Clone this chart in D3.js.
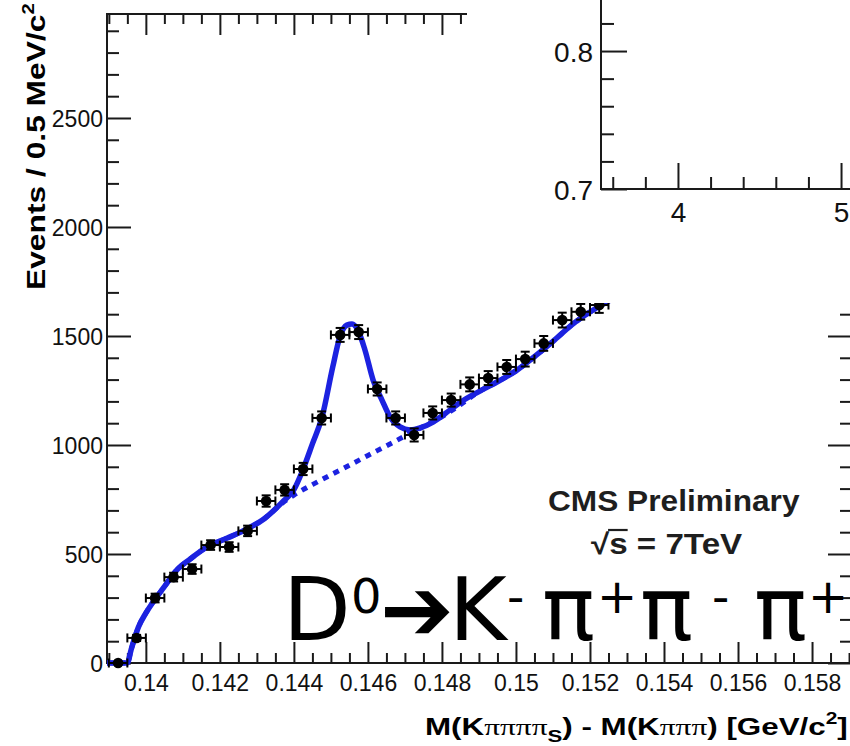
<!DOCTYPE html>
<html>
<head>
<meta charset="utf-8">
<script src="https://cdn.jsdelivr.net/npm/d3@7"></script>
<style>
  body { margin: 0; background: #fff; }
  svg { display: block; }
</style>
</head>
<body>
<svg id="chart" width="850" height="746"></svg>
<script>
// ---- data: D*+ -> D0 pi_s mass difference, D0 -> K- pi+ pi- pi+ ----
const binCenters = [0.13925, 0.13975, 0.14025, 0.14075, 0.14125, 0.14175, 0.14225, 0.14275, 0.14325,
  0.14375, 0.14425, 0.14475, 0.14525, 0.14575, 0.14625, 0.14675, 0.14725, 0.14775, 0.14825,
  0.14875, 0.14925, 0.14975, 0.15025, 0.15075, 0.15125, 0.15175, 0.15225];
const counts = [0, 115, 298, 394, 431, 541, 532, 606, 743, 794, 890, 1124, 1505, 1518, 1257,
  1124, 1046, 1147, 1206, 1278, 1307, 1358, 1394, 1466, 1573, 1611, 1642];
const countErrors = [0, 14, 20, 20, 22, 22, 22, 24, 26, 26, 28, 30, 32, 32, 30,
  30, 30, 30, 30, 32, 32, 32, 34, 34, 34, 36, 36];
const binHalfWidth = 0.00025;

// fitted model: total (signal + background) and background only
const fitX = [0.13895, 0.1395, 0.1396, 0.1398, 0.1400, 0.1402, 0.1405, 0.1408, 0.1412, 0.1417,
  0.1422, 0.1427, 0.1432, 0.1437, 0.1440, 0.14424, 0.1445, 0.14476, 0.14505, 0.14524, 0.14543,
  0.14557, 0.14573, 0.14592, 0.14614, 0.14638, 0.1466, 0.14687, 0.14714, 0.14741, 0.14776,
  0.14822, 0.1485, 0.1490, 0.1495, 0.1500, 0.1505, 0.1510, 0.1515, 0.1520, 0.1525, 0.1530];
const fitTotal = [0, 0, 60, 165, 229, 281, 350, 420, 477, 537, 573, 612, 662, 740, 795, 885, 1005,
  1128, 1358, 1495, 1550, 1555, 1527, 1436, 1298, 1206, 1128, 1083, 1069, 1078, 1105, 1161,
  1196, 1245, 1290, 1340, 1405, 1475, 1550, 1610, 1660, 1702];
const bkgX = [0.13895, 0.1395, 0.1396, 0.1398, 0.1400, 0.1402, 0.1405, 0.1408, 0.1412, 0.1417,
  0.1422, 0.1427, 0.1432, 0.1437, 0.1440, 0.1445, 0.1450, 0.1455, 0.1460, 0.1465, 0.1470,
  0.1475, 0.1480, 0.1485, 0.1490, 0.1495, 0.1500, 0.1505, 0.1510, 0.1515, 0.1520, 0.1525, 0.1530];
const bkgY = [0, 0, 60, 165, 229, 281, 350, 420, 477, 537, 573, 612, 662, 735, 770, 818, 863, 907,
  952, 996, 1041, 1085, 1130, 1185, 1245, 1290, 1340, 1405, 1475, 1550, 1610, 1660, 1702];

// axis ticks
const xMajorTicks = [0.14, 0.142, 0.144, 0.146, 0.148, 0.15, 0.152, 0.154, 0.156, 0.158];
const xTickLabels = ["0.14", "0.142", "0.144", "0.146", "0.148", "0.15", "0.152", "0.154", "0.156", "0.158"];
const yMajorTicks = [0, 500, 1000, 1500, 2000, 2500];
const yTickLabels = ["0", "500", "1000", "1500", "2000", "2500"];

// inset pad axes
const insetXTicks = [4, 5];
const insetXMinor = [3.6, 3.8, 4.2, 4.4, 4.6, 4.8];
const insetYTicks = [0.7, 0.8];
const insetYMinor = [0.72, 0.74, 0.76, 0.78, 0.82];

// ---- layout ----
const svg = d3.select("#chart");
const frame = { left: 107, right: 852, top: 14, bottom: 663 };
const SANS = "'Liberation Sans', Arial, Helvetica, sans-serif";
const AXIS = "#1a1a1a";
const BLUE = "#1c22e0";

const x = d3.scaleLinear().domain([0.13895, 0.15908]).range([frame.left, frame.right]);
const y = d3.scaleLinear().domain([0, 2977]).range([frame.bottom, frame.top]);

function styleAxis(g) {
  g.select(".domain").remove();
  g.selectAll(".tick line").attr("stroke", AXIS).attr("stroke-width", 2);
  g.selectAll("text").attr("font-family", SANS).attr("fill", "#111");
}

function rangeTicks(lo, hi, step) {
  const out = [];
  for (let i = 0; lo + i * step <= hi + 1e-12; i++) out.push(+(lo + i * step).toFixed(6));
  return out;
}
const xMinor = rangeTicks(0.139, 0.159, 0.0005).filter(v => !xMajorTicks.some(m => Math.abs(m - v) < 1e-9));
const yMinor = rangeTicks(0, 2900, 100).filter(v => v % 500 !== 0);

// ---- main frame axes ----
const gAxes = svg.append("g");
// bottom
gAxes.append("g").attr("transform", `translate(0,${frame.bottom})`)
  .call(d3.axisBottom(x).tickValues(xMajorTicks).tickSize(-21).tickPadding(12)
    .tickFormat((d, i) => xTickLabels[i]))
  .call(styleAxis).call(g => g.selectAll("text").attr("font-size", 23));
gAxes.append("g").attr("transform", `translate(0,${frame.bottom})`)
  .call(d3.axisBottom(x).tickValues(xMinor).tickSize(-10).tickFormat(""))
  .call(styleAxis);
// top
gAxes.append("g").attr("transform", `translate(0,${frame.top})`)
  .call(d3.axisTop(x).tickValues(xMajorTicks).tickSize(-21).tickFormat(""))
  .call(styleAxis);
gAxes.append("g").attr("transform", `translate(0,${frame.top})`)
  .call(d3.axisTop(x).tickValues(xMinor).tickSize(-10).tickFormat(""))
  .call(styleAxis);
// left
gAxes.append("g").attr("transform", `translate(${frame.left},0)`)
  .call(d3.axisLeft(y).tickValues(yMajorTicks).tickSize(-24).tickPadding(4)
    .tickFormat((d, i) => yTickLabels[i]))
  .call(styleAxis).call(g => g.selectAll("text").attr("font-size", 23).attr("dy", "0.36em"));
gAxes.append("g").attr("transform", `translate(${frame.left},0)`)
  .call(d3.axisLeft(y).tickValues(yMinor).tickSize(-12).tickFormat(""))
  .call(styleAxis);
// right
gAxes.append("g").attr("transform", `translate(${frame.right},0)`)
  .call(d3.axisRight(y).tickValues(yMajorTicks).tickSize(-24).tickFormat(""))
  .call(styleAxis);
gAxes.append("g").attr("transform", `translate(${frame.right},0)`)
  .call(d3.axisRight(y).tickValues(yMinor).tickSize(-12).tickFormat(""))
  .call(styleAxis);
// frame
svg.append("rect")
  .attr("x", frame.left).attr("y", frame.top)
  .attr("width", frame.right - frame.left).attr("height", frame.bottom - frame.top)
  .attr("fill", "none").attr("stroke", AXIS).attr("stroke-width", 2);

// ---- fit curves ----
const line = d3.line().x(d => x(d[0])).y(d => y(d[1])).curve(d3.curveMonotoneX);
svg.append("path")
  .datum(bkgX.map((v, i) => [v, bkgY[i]]))
  .attr("d", line).attr("fill", "none").attr("stroke", BLUE)
  .attr("stroke-width", 5).attr("stroke-dasharray", "6,6");
svg.append("path")
  .datum(fitX.map((v, i) => [v, fitTotal[i]]))
  .attr("d", line).attr("fill", "none").attr("stroke", BLUE)
  .attr("stroke-width", 5.5).attr("stroke-linejoin", "round");

// ---- data points with error bars ----
const pts = binCenters.map((c, i) => ({ c, n: counts[i], e: countErrors[i] }));
const gPts = svg.append("g").attr("stroke", "#000").attr("stroke-width", 2);
const cap = 4.5;
pts.forEach(p => {
  const cx = x(p.c), cy = y(p.n);
  const x0 = x(p.c - binHalfWidth), x1 = x(p.c + binHalfWidth);
  const y0 = y(p.n - p.e), y1 = y(p.n + p.e);
  gPts.append("line").attr("x1", x0).attr("x2", x1).attr("y1", cy).attr("y2", cy);
  gPts.append("line").attr("x1", x0).attr("x2", x0).attr("y1", cy - cap).attr("y2", cy + cap);
  gPts.append("line").attr("x1", x1).attr("x2", x1).attr("y1", cy - cap).attr("y2", cy + cap);
  if (p.e > 0) {
    gPts.append("line").attr("x1", cx).attr("x2", cx).attr("y1", y0).attr("y2", y1);
    gPts.append("line").attr("x1", cx - cap).attr("x2", cx + cap).attr("y1", y0).attr("y2", y0);
    gPts.append("line").attr("x1", cx - cap).attr("x2", cx + cap).attr("y1", y1).attr("y2", y1);
  }
});
svg.append("g").selectAll("circle").data(pts).join("circle")
  .attr("cx", d => x(d.c)).attr("cy", d => y(d.n)).attr("r", 5.3).attr("fill", "#000");

// ---- helper: stretch a text element horizontally to a given width about its anchor ----
function fitWidth(node, width, anchorX) {
  const w = node.node().getBBox().width;
  const s = width / w;
  node.attr("transform", `translate(${anchorX},0) scale(${s},1) translate(${-anchorX},0)`);
}

// ---- axis titles ----
const yTitleG = svg.append("g").attr("transform", "translate(45,290) rotate(-90)");
const yTitle = yTitleG.append("text").attr("x", 0).attr("y", 0)
  .attr("font-family", SANS).attr("font-weight", "bold").attr("font-size", 25).attr("fill", "#000");
yTitle.append("tspan").text("Events / 0.5 MeV/c");
yTitle.append("tspan").attr("font-size", 16).attr("dy", -11).text("2");
fitWidth(yTitle, 287, 0);

const xTitle = svg.append("text").attr("x", 425).attr("y", 735)
  .attr("font-family", SANS).attr("font-weight", "bold").attr("font-size", 24).attr("fill", "#000");
xTitle.append("tspan").text("M(K");
xTitle.append("tspan").attr("font-family", "'Liberation Serif', serif").attr("font-weight", "normal").text("ππππ");
xTitle.append("tspan").attr("font-size", 17).attr("dy", 7).text("S");
xTitle.append("tspan").attr("dy", -7).text(") - M(K");
xTitle.append("tspan").attr("font-family", "'Liberation Serif', serif").attr("font-weight", "normal").text("πππ");
xTitle.append("tspan").text(") [GeV/c");
xTitle.append("tspan").attr("font-size", 16).attr("dy", -11).text("2");
xTitle.append("tspan").attr("dy", 11).text("]");
fitWidth(xTitle, 423, 425);

// ---- labels ----
const cmsG = svg.append("g");
cmsG.append("text").attr("x", 548).attr("y", 511)
  .attr("font-family", SANS).attr("font-weight", "bold").attr("font-size", 30).attr("fill", "#1e1e1e")
  .text("CMS Preliminary");
fitWidth(cmsG, 252, 548);

const energyG = svg.append("g");
const energy = energyG.append("text").attr("x", 591).attr("y", 554)
  .attr("font-family", SANS).attr("font-weight", "bold").attr("font-size", 29).attr("fill", "#1e1e1e")
  .text("√s = 7TeV");
{
  // radical bar over the "s"
  const t = energy.node();
  const rad = t.getExtentOfChar(0), s = t.getExtentOfChar(1);
  energyG.append("line")
    .attr("x1", rad.x + rad.width - 1).attr("x2", s.x + s.width)
    .attr("y1", rad.y + 2).attr("y2", rad.y + 2)
    .attr("stroke", "#1e1e1e").attr("stroke-width", 2.2);
}
fitWidth(energyG, 152, 591);

// decay channel, glyphs placed one by one
const bigFont = 88, supFont = 48, baseY = 640, supY = 613;
const decayParts = [
  { t: "D", x: 283, sup: false },
  { t: "0", x: 351, sup: true },
  { t: "➔", x: 380, sup: false },
  { t: "K", x: 449, sup: false },
  { t: "-", x: 507, sup: true },
  { t: "π", x: 542, sup: false },
  { t: "+", x: 597, sup: true },
  { t: "π", x: 640, sup: false },
  { t: "-", x: 712, sup: true },
  { t: "π", x: 754, sup: false },
  { t: "+", x: 808, sup: true }
];
const decay = svg.append("text")
  .attr("font-family", "'DejaVu Sans', sans-serif").attr("fill", "#000");
decay.selectAll("tspan").data(decayParts).join("tspan")
  .attr("x", d => d.x).attr("y", d => d.sup ? supY : baseY)
  .attr("font-size", d => d.sup ? supFont : bigFont)
  .text(d => d.t);

// ---- inset pad (overlapping the upper right corner) ----
svg.append("rect").attr("x", 467).attr("y", 0).attr("width", 390).attr("height", 303).attr("fill", "#fff");
const xi = d3.scaleLinear().domain([3.528, 5.055]).range([601, 850]);
const yi = d3.scaleLinear().domain([0.7, 0.837]).range([189, 0]);
const gInset = svg.append("g");
gInset.append("g").attr("transform", "translate(0,189)")
  .call(d3.axisBottom(xi).tickValues(insetXTicks).tickSize(-26).tickPadding(13).tickFormat(d3.format("d")))
  .call(styleAxis).call(g => g.selectAll("text").attr("font-size", 28));
gInset.append("g").attr("transform", "translate(0,189)")
  .call(d3.axisBottom(xi).tickValues(insetXMinor).tickSize(-12).tickFormat(""))
  .call(styleAxis);
gInset.append("g").attr("transform", "translate(601,0)")
  .call(d3.axisLeft(yi).tickValues(insetYTicks).tickSize(-26).tickPadding(8).tickFormat(d3.format(".1f")))
  .call(styleAxis).call(g => g.selectAll("text").attr("font-size", 28).attr("dy", "0.36em"));
gInset.append("g").attr("transform", "translate(601,0)")
  .call(d3.axisLeft(yi).tickValues(insetYMinor).tickSize(-13).tickFormat(""))
  .call(styleAxis);
gInset.append("path").attr("d", "M601,0V189H852").attr("fill", "none")
  .attr("stroke", AXIS).attr("stroke-width", 2);
</script>
</body>
</html>
